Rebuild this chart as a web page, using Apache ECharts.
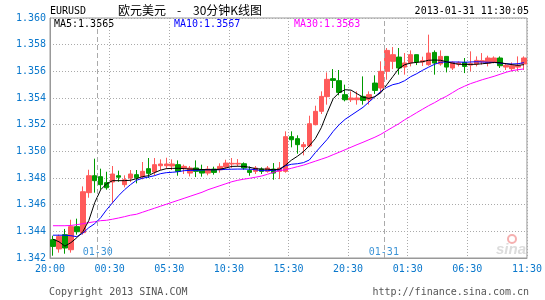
<!DOCTYPE html>
<html><head><meta charset="utf-8">
<script src="https://cdn.jsdelivr.net/npm/echarts@6/dist/echarts.min.js"></script>
<style>html,body{margin:0;padding:0;background:#fff}#c{width:545px;height:300px}</style>
</head><body><div id="c"></div>
<script>
const symbolName = 'EURUSD';
const titleParts = ['欧元美元', '-', '30分钟K线图'];
const stamp = '2013-01-31 11:30:05';
const copyright = 'Copyright 2013 SINA.COM';
const siteUrl = 'http://finance.sina.com.cn';
const maLabels = ['MA5:1.3565', 'MA10:1.3567', 'MA30:1.3563'];
const xLabels = ['20:00','00:30','05:30','10:30','15:30','20:30','01:30','06:30','11:30'];
const dayMarks = [{label:'01-30', slot:8}, {label:'01-31', slot:56}];
const yMin = 1.342, yMax = 1.360, yStep = 0.002;

const opens = [1.34337,1.34268,1.34375,1.34262,1.34435,1.3439,1.3469,1.34817,1.3481,1.34765,
1.3477,1.34817,1.3475,1.348,1.34825,1.3481,1.3487,1.34845,1.34892,1.34892,
1.3489,1.349,1.34872,1.34837,1.34875,1.34862,1.34837,1.34867,1.34862,1.34882,
1.34905,1.34905,1.34907,1.34857,1.3485,1.34867,1.3485,1.34867,1.3485,1.3485,
1.3511,1.35095,1.35035,1.3504,1.352,1.353,1.3541,1.35545,1.3553,1.35425,
1.35387,1.35387,1.35412,1.35387,1.35512,1.35475,1.356,1.35675,1.35707,1.35632,
1.35663,1.35725,1.3567,1.3565,1.35742,1.35655,1.35712,1.35625,1.35655,1.35667,
1.35647,1.35655,1.3567,1.35662,1.3567,1.357,1.35632,1.3562,1.35632,1.35655];
const closes = [1.34287,1.34362,1.34275,1.34435,1.34397,1.34697,1.34817,1.3478,1.3475,1.34727,
1.3483,1.34806,1.34787,1.3483,1.34802,1.3485,1.34835,1.349,1.34905,1.34905,
1.34905,1.3485,1.34887,1.34875,1.3485,1.34837,1.34867,1.34842,1.34887,1.34912,
1.3491,1.3491,1.34875,1.34842,1.34875,1.3485,1.34875,1.34837,1.34875,1.3511,
1.35087,1.3505,1.3505,1.35207,1.353,1.35412,1.3554,1.35532,1.35442,1.35387,
1.354,1.354,1.35382,1.35425,1.35457,1.356,1.35757,1.35725,1.35625,1.35663,
1.35725,1.3567,1.3568,1.35737,1.35662,1.35712,1.35632,1.35667,1.35663,1.35637,
1.35657,1.35682,1.3568,1.357,1.357,1.35642,1.35645,1.35642,1.35645,1.357];
const lows = [1.34217,1.3424,1.34232,1.3424,1.34375,1.34375,1.34652,1.3469,1.34712,1.34712,
1.3461,1.34772,1.3473,1.3477,1.3476,1.3479,1.348,1.3482,1.3486,1.3487,
1.3486,1.34817,1.3483,1.34812,1.34807,1.3481,1.3482,1.34825,1.3484,1.3487,
1.34875,1.34887,1.34862,1.34817,1.3483,1.3483,1.3484,1.34787,1.34792,1.3484,
1.3503,1.34982,1.3497,1.3503,1.35195,1.3528,1.3535,1.35475,1.3542,1.35375,
1.3537,1.3535,1.3535,1.3535,1.3543,1.35437,1.35537,1.35617,1.35575,1.35575,
1.35637,1.35647,1.3564,1.35642,1.35575,1.35642,1.35592,1.3561,1.35637,1.35587,
1.356,1.35637,1.3565,1.35637,1.3566,1.35625,1.3561,1.356,1.356,1.3561];
const highs = [1.34367,1.34375,1.34418,1.34487,1.34495,1.34737,1.34862,1.34945,1.3487,1.34847,
1.3489,1.34855,1.3482,1.3486,1.3486,1.3492,1.3495,1.3495,1.3494,1.34952,
1.3494,1.34932,1.349,1.3489,1.34932,1.349,1.3489,1.34885,1.3491,1.34937,
1.3495,1.34942,1.34917,1.34887,1.3489,1.3488,1.3489,1.34912,1.3492,1.3515,
1.3515,1.3512,1.3507,1.35267,1.35342,1.3545,1.35592,1.35617,1.3561,1.355,
1.3545,1.3545,1.35562,1.3545,1.3557,1.35675,1.35775,1.35782,1.35775,1.35737,
1.35757,1.35725,1.3571,1.35875,1.35757,1.35757,1.35712,1.35675,1.35675,1.357,
1.3575,1.35712,1.35737,1.35717,1.35712,1.35712,1.35662,1.35667,1.35712,1.35712];

const ma5 = [1.34341,1.34322,1.34289,1.34315,1.34352,1.34397,1.3448,1.34615,1.34712,1.34757,
1.3478,1.3478,1.3478,1.34783,1.34795,1.3481,1.34817,1.3484,1.34858,1.3487,
1.34872,1.34873,1.3487,1.34867,1.34866,1.34864,1.34862,1.34862,1.34866,1.34875,
1.34887,1.34888,1.34887,1.3488,1.3487,1.34867,1.34866,1.34862,1.34866,1.34896,
1.34934,1.34963,1.34997,1.35042,1.35095,1.35177,1.3529,1.35395,1.3544,1.35462,
1.35459,1.35432,1.35406,1.35397,1.3541,1.3544,1.355,1.3556,1.3562,1.3565,
1.35662,1.35667,1.35672,1.35683,1.35685,1.35683,1.35672,1.35661,1.35653,1.35652,
1.35652,1.35653,1.35657,1.35661,1.35667,1.35665,1.35657,1.3565,1.35645,1.3565];
const ma10 = [1.34371,1.34371,1.34371,1.34367,1.3436,1.34386,1.34427,1.34457,1.34502,1.34562,
1.34615,1.34667,1.34712,1.3475,1.34783,1.34798,1.34807,1.34817,1.34832,1.3484,
1.34843,1.34847,1.34855,1.34857,1.34858,1.3486,1.34862,1.34862,1.34862,1.34865,
1.34866,1.34867,1.34867,1.34866,1.34862,1.34855,1.34855,1.34858,1.34862,1.34892,
1.34903,1.34907,1.34915,1.34935,1.3499,1.3504,1.3509,1.3515,1.352,1.3524,
1.3527,1.353,1.3533,1.3537,1.3541,1.3545,1.3548,1.355,1.3551,1.3553,
1.3556,1.35582,1.35608,1.35631,1.35653,1.35668,1.3567,1.3567,1.3567,1.35668,
1.3567,1.35672,1.3567,1.35668,1.35667,1.35661,1.35657,1.35655,1.35657,1.35665];
const ma30 = [1.34442,1.34442,1.34442,1.34444,1.3445,1.34457,1.34465,1.34472,1.3448,1.34483,
1.34491,1.345,1.3451,1.34521,1.34528,1.34543,1.34558,1.34573,1.34588,1.34603,
1.34618,1.34633,1.34648,1.34663,1.34678,1.34693,1.34712,1.34727,1.34742,1.34757,
1.34772,1.34783,1.34791,1.34798,1.34806,1.34815,1.34828,1.34843,1.34855,1.34862,
1.34873,1.34885,1.34896,1.34911,1.34926,1.34941,1.34956,1.34975,1.34993,1.35012,
1.35031,1.3505,1.35068,1.35087,1.35106,1.35128,1.35155,1.35181,1.35207,1.35237,
1.35263,1.3529,1.35316,1.35342,1.35365,1.35391,1.35413,1.3544,1.35467,1.35488,
1.35507,1.35522,1.35537,1.3555,1.35563,1.35578,1.35593,1.35605,1.35612,1.35618];

const categories = opens.map((_, i) => String(i));
const mono = '"DejaVu Sans Mono", monospace';
const blue = '#0a78cc';
const upColor = '#ff5a5a', downColor = '#009a00';

const chart = echarts.init(document.getElementById('c'), null, {renderer: 'canvas'});
const maColors = ['#000000', '#0000ff', '#ff00ff'];

chart.setOption({
  animation: false,
  backgroundColor: '#fff',
  grid: {left: 50, top: 18, width: 480, height: 240, show: true, borderColor: '#999', borderWidth: 1},
  xAxis: [
    {type: 'category', data: categories, boundaryGap: true, axisLine: {show: false}, axisTick: {show: false}, axisLabel: {show: false}, splitLine: {show: false}},
    {type: 'value', min: 0, max: opens.length, interval: 10, position: 'bottom',
     axisLine: {show: true, lineStyle: {color: '#999', width: 1}}, axisTick: {show: false},
     axisLabel: {color: blue, fontFamily: mono, fontSize: 10, margin: 6, showMinLabel: true, showMaxLabel: true,
       formatter: v => xLabels[Math.round(v / 10)] || ''},
     splitLine: {show: true, lineStyle: {color: '#aaa', type: [1, 2]}}}
  ],
  yAxis: {type: 'value', min: yMin, max: yMax, interval: yStep,
    axisLine: {show: true, lineStyle: {color: '#999'}}, axisTick: {show: false},
    axisLabel: {color: blue, fontFamily: mono, fontSize: 10, margin: 4, formatter: v => v.toFixed(3)},
    splitLine: {show: true, lineStyle: {color: '#aaa', type: [1, 2]}}},
  series: [
    {type: 'scatter', xAxisIndex: 1, yAxisIndex: 0, symbolSize: 0, silent: true,
     data: dayMarks.map(d => [d.slot, yMin]),
     label: {show: true, position: 'top', distance: 1, color: blue, fontFamily: mono, fontSize: 10,
       formatter: p => dayMarks[p.dataIndex].label},
     markLine: {symbol: 'none', silent: true, label: {show: false},
       lineStyle: {color: '#aaa', type: [5, 3], width: 1},
       data: dayMarks.map(d => ({xAxis: d.slot}))}},
    {type: 'candlestick', xAxisIndex: 0, barWidth: 5,
     data: opens.map((o, i) => [o, closes[i], lows[i], highs[i]]),
     itemStyle: {color: upColor, color0: downColor, borderColor: upColor, borderColor0: downColor, borderWidth: 1}},
    {type: 'line', xAxisIndex: 0, data: ma30, showSymbol: false, lineStyle: {color: maColors[2], width: 1}},
    {type: 'line', xAxisIndex: 0, data: ma10, showSymbol: false, lineStyle: {color: maColors[1], width: 1}},
    {type: 'line', xAxisIndex: 0, data: ma5, showSymbol: false, lineStyle: {color: maColors[0], width: 1}}
  ],
  graphic: [
    {type: 'text', x: 50, y: 11, style: {text: symbolName, font: '10px ' + mono, fill: '#000', verticalAlign: 'middle'}},
    {type: 'text', x: 118, y: 10, style: {text: titleParts[0], font: '12px "Noto Sans CJK SC"', fill: '#000', verticalAlign: 'middle'}},
    {type: 'text', x: 177, y: 10, style: {text: titleParts[1], font: '12px "Noto Sans CJK SC"', fill: '#000', verticalAlign: 'middle'}},
    {type: 'text', x: 193, y: 10, style: {text: titleParts[2], font: '12px "Noto Sans CJK SC"', fill: '#000', verticalAlign: 'middle'}},
    {type: 'text', x: 529, y: 11, style: {text: stamp, font: '10px ' + mono, fill: '#000', align: 'right', verticalAlign: 'middle'}},
    {type: 'text', x: 54, y: 24, style: {text: maLabels[0], font: '10px ' + mono, fill: maColors[0], verticalAlign: 'middle'}},
    {type: 'text', x: 174, y: 24, style: {text: maLabels[1], font: '10px ' + mono, fill: maColors[1], verticalAlign: 'middle'}},
    {type: 'text', x: 294, y: 24, style: {text: maLabels[2], font: '10px ' + mono, fill: maColors[2], verticalAlign: 'middle'}},
    {type: 'circle', shape: {cx: 512, cy: 239, r: 4}, style: {fill: 'none', stroke: '#f5b0b0', lineWidth: 2}, z: 0},
    {type: 'text', x: 511, y: 250, style: {text: 'sina', font: 'italic bold 15px "Liberation Sans"', fill: '#dcdcdc', align: 'center', verticalAlign: 'middle'}, z: 0},
    {type: 'text', x: 49, y: 292, style: {text: copyright, font: '10px ' + mono, fill: '#555', verticalAlign: 'middle'}},
    {type: 'text', x: 529, y: 292, style: {text: siteUrl, font: '10px ' + mono, fill: '#555', align: 'right', verticalAlign: 'middle'}}
  ]
});
</script>
</body></html>
